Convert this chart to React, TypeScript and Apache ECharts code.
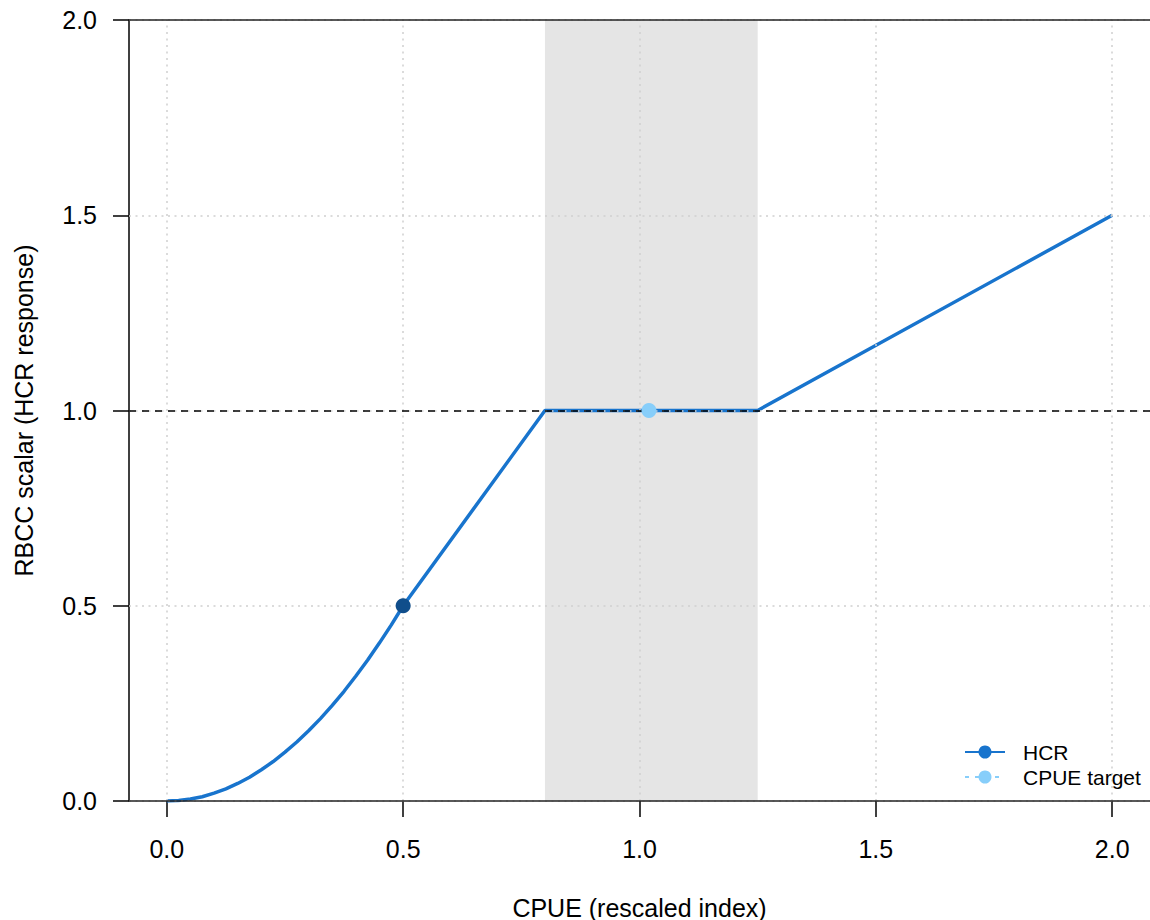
import React, { useEffect, useRef } from "react";
import * as echarts from "echarts";

// ---- data ----
const xTicks = [0, 0.5, 1, 1.5, 2];
const yTicks = [0, 0.5, 1, 1.5, 2];
const bandRange = [0.8, 1.25];
const hcrX = [
  0, 0.025, 0.05, 0.075, 0.1, 0.125, 0.15, 0.175, 0.2, 0.225, 0.25, 0.275, 0.3,
  0.325, 0.35, 0.375, 0.4, 0.425, 0.45, 0.475, 0.5, 0.8, 1.25, 2.0,
];
const hcrY = [
  0, 0.001, 0.005, 0.011, 0.02, 0.031, 0.045, 0.061, 0.08, 0.101, 0.125, 0.151,
  0.18, 0.211, 0.245, 0.281, 0.32, 0.361, 0.405, 0.451, 0.5, 1.0, 1.0, 1.5,
];
const hcrPoint = [0.5, 0.5];
const targetPoint = [1.02, 1.0];
const dashedRefLines = [1];
const solidRefLines = [0, 2];
const legendItems = ["HCR", "CPUE target"];

const FONT = "'Liberation Sans', Arial, Helvetica, sans-serif";
const LINE_BLUE = "#1874CD";
const DARK_BLUE = "#104E8B";
const LIGHT_BLUE = "#87CEFA";

export default function App() {
  const ref = useRef<HTMLDivElement>(null);
  useEffect(() => {
    if (!ref.current) return;
    const chart = echarts.init(ref.current, undefined, { renderer: "svg" });
    const curve = hcrX.map((x, i) => [x, hcrY[i]]);
    const legendTop = 752;
    const legendGap = 25;
    const option: any = {
      animation: false,
      backgroundColor: "#ffffff",
      grid: { left: 129, top: 20, right: 0, bottom: 119, containLabel: false, outerBoundsMode: "none" },
      xAxis: {
        type: "value",
        min: -0.08,
        max: 2.08,
        axisLine: { show: false, onZero: false },
        axisTick: { show: true, customValues: xTicks, length: 16, lineStyle: { color: "#000", width: 1.5 } },
        axisLabel: {
          customValues: xTicks,
          formatter: (v: number) => v.toFixed(1),
          fontSize: 25,
          color: "#000",
          fontFamily: FONT,
          margin: 35,
        },
        splitLine: { show: false },
        name: "CPUE (rescaled index)",
        nameLocation: "middle",
        nameGap: 94,
        nameTextStyle: { fontSize: 25, color: "#000", fontFamily: FONT },
      },
      yAxis: {
        type: "value",
        min: 0,
        max: 2,
        interval: 0.5,
        axisLine: { show: true, onZero: false, lineStyle: { color: "#000", width: 1.5 } },
        axisTick: { show: true, length: 16, lineStyle: { color: "#000", width: 1.5 } },
        axisLabel: {
          formatter: (v: number) => v.toFixed(1),
          fontSize: 25,
          color: "#000",
          fontFamily: FONT,
          margin: 32,
          showMinLabel: true,
          showMaxLabel: true,
        },
        splitLine: { show: false },
        name: "RBCC scalar (HCR response)",
        nameLocation: "middle",
        nameGap: 93,
        nameTextStyle: { fontSize: 25, color: "#000", fontFamily: FONT },
      },
      series: [
        {
          name: "band",
          type: "line",
          data: [],
          z: 1,
          markArea: {
            silent: true,
            itemStyle: { color: "#E5E5E5" },
            data: [[{ xAxis: bandRange[0], yAxis: 0 }, { xAxis: bandRange[1], yAxis: 2 }]],
          },
        },
        {
          name: "HCR",
          type: "line",
          data: curve,
          z: 2,
          symbol: "none",
          smooth: false,
          lineStyle: { color: LINE_BLUE, width: 3.5 },
          itemStyle: { color: LINE_BLUE },
        },
        {
          name: "gridlines",
          type: "line",
          data: [],
          z: 3,
          markLine: {
            silent: true,
            symbol: ["none", "none"],
            label: { show: false },
            lineStyle: { color: "#CFCFCF", width: 1.5, type: [2, 4.5] },
            data: [
              ...xTicks.map((v) => ({ xAxis: v })),
              ...yTicks.map((v) => ({ yAxis: v })),
            ],
          },
        },
        {
          name: "solidRef",
          type: "line",
          data: [],
          z: 3,
          markLine: {
            silent: true,
            symbol: ["none", "none"],
            label: { show: false },
            lineStyle: { color: "#222", width: 1.5, type: "solid" },
            data: solidRefLines.map((v) => ({ yAxis: v })),
          },
        },
        {
          name: "dashedRef",
          type: "line",
          data: [],
          z: 4,
          markLine: {
            silent: true,
            symbol: ["none", "none"],
            label: { show: false },
            lineStyle: { color: "#000", width: 1.5, type: [7, 6] },
            data: dashedRefLines.map((v) => ({ yAxis: v })),
          },
        },
        {
          name: "HCR point",
          type: "scatter",
          data: [hcrPoint],
          z: 5,
          symbol: "circle",
          symbolSize: 15,
          itemStyle: { color: DARK_BLUE, opacity: 1 },
        },
        {
          name: "CPUE target",
          type: "scatter",
          data: [targetPoint],
          z: 5,
          symbol: "circle",
          symbolSize: 15,
          itemStyle: { color: LIGHT_BLUE, opacity: 1 },
        },
      ],
      graphic: [
        { type: "line", z: 10, shape: { x1: 965, y1: legendTop, x2: 1005, y2: legendTop }, style: { stroke: LINE_BLUE, lineWidth: 2 } },
        { type: "circle", z: 10, shape: { cx: 985, cy: legendTop, r: 6.5 }, style: { fill: LINE_BLUE } },
        {
          type: "text",
          z: 10,
          x: 1023,
          y: legendTop,
          style: { text: legendItems[0], fontSize: 21, fontFamily: FONT, fill: "#000", verticalAlign: "middle", align: "left" },
        },
        {
          type: "line",
          z: 10,
          shape: { x1: 965, y1: legendTop + legendGap, x2: 1005, y2: legendTop + legendGap },
          style: { stroke: LIGHT_BLUE, lineWidth: 2, lineDash: [4, 6] },
        },
        { type: "circle", z: 10, shape: { cx: 985, cy: legendTop + legendGap, r: 6.5 }, style: { fill: LIGHT_BLUE } },
        {
          type: "text",
          z: 10,
          x: 1023,
          y: legendTop + legendGap,
          style: { text: legendItems[1], fontSize: 21, fontFamily: FONT, fill: "#000", verticalAlign: "middle", align: "left" },
        },
      ],
    };
    chart.setOption(option);
    return () => chart.dispose();
  }, []);
  return (
    <div
      ref={ref}
      style={{ position: "absolute", left: 0, top: 0, width: 1150, height: 920, background: "#fff" }}
    />
  );
}
